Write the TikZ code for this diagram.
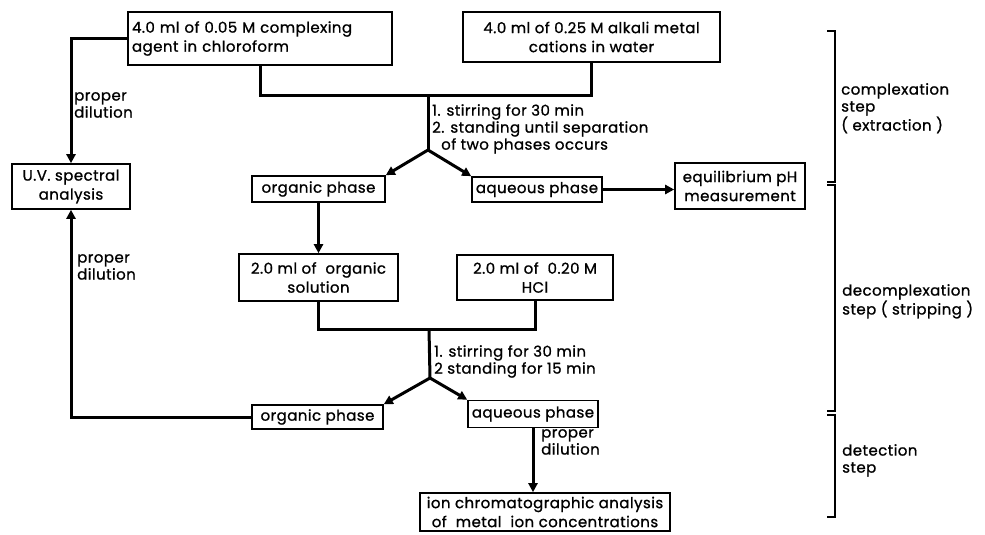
\documentclass[tikz,border=0pt]{standalone}
\usepackage{fontspec}
\setmainfont{Poppins}[LetterSpace=3,FakeBold=1]
\usetikzlibrary{arrows.meta}
\begin{document}
\begin{tikzpicture}[x=1pt,y=-1pt,
  every node/.style={font=\fontsize{15}{19}\selectfont},
  box/.style={draw,line width=1.6pt,inner sep=0pt,align=center},
  conn/.style={line width=3pt},
  arr/.style={line width=3pt,-{Triangle[length=9pt,width=9pt]}},
  brk/.style={line width=1.5pt},
  lbl/.style={anchor=north west,inner sep=0pt,align=left,font=\fontsize{15}{17}\selectfont}]
\useasboundingbox (0,0) rectangle (985,535);
% boxes
\node[box,minimum width=264pt,minimum height=53pt,text width=256pt,align=left] (cA) at (260,38.5) {4.0 ml of 0.05 M complexing\\agent in chloroform};
\node[box,minimum width=257pt,minimum height=50pt] (cB) at (591.5,37) {4.0 ml of 0.25 M alkali metal\\cations in water};
\node[box,minimum width=133pt,minimum height=26pt] (orgA) at (318.5,189) {organic phase};
\node[box,minimum width=130pt,minimum height=25pt] (aqA) at (537,189.5) {aqueous phase};
\node[box,minimum width=130pt,minimum height=46pt] (eq) at (740,186) {equilibrium pH\\measurement};
\node[box,minimum width=118pt,minimum height=45pt] (uv) at (71,186.5) {U.V. spectral\\analysis};
\node[box,minimum width=159pt,minimum height=47pt] (orgS) at (318.5,277.5) {2.0 ml of \ organic\\solution};
\node[box,minimum width=156pt,minimum height=45pt] (hcl) at (535,277.5) {2.0 ml of \ 0.20 M\\HCl};
\node[box,minimum width=131pt,minimum height=24pt] (orgB) at (317.5,417) {organic phase};
\node[box,minimum width=130pt,minimum height=27pt] (aqB) at (533,414) {aqueous phase};
\node[box,minimum width=250pt,minimum height=38pt] (ion) at (545,512) {ion chromatographic analysis\\of \ metal \ ion concentrations};
% junctions
\coordinate (j1) at (428,95);
\coordinate (a1) at (428,150);
\coordinate (j2) at (429,329);
\coordinate (a2) at (430,378);
% connectors
\draw[conn] (cA.south) |- (j1) -| (cB.south);
\draw[conn] (j1) -- (a1);
\draw[arr] (a1) -- (orgA.north east);
\draw[arr] (a1) -- (aqA.north west);
\draw[arr] (aqA.east) -- (aqA.east -| eq.west);
\draw[arr] (cA.west) -| (uv.north);
\draw[arr] (orgA.south) -- (orgS.north);
\draw[conn] (orgS.south) |- (j2) -| (hcl.south);
\draw[conn] (j2) -- (a2);
\draw[arr] (a2) -- (orgB.north east);
\draw[arr] (a2) -- (aqB.north west);
\draw[arr] (orgB.west) -| (uv.south);
\draw[arr] (aqB.south) -- (aqB.south |- ion.north);
% labels
\node[lbl] (s1) at (432,104) {1. stirring for 30 min\\2. standing until separation\\\hspace*{9pt}of two phases occurs};
\node[lbl] (s2) at (434,345) {1. stirring for 30 min\\2 standing for 15 min};
\node[lbl] (d1) at (74,92) {proper\\dilution};
\node[lbl] (d2) at (77,254) {proper\\dilution};
\node[lbl] (d3) at (541,429) {proper\\dilution};
% brackets
\draw[brk] (827,31) -- (835,31) -- (835,182) -- (827,182);
\draw[brk] (827,185) -- (835,185) -- (835,411) -- (827,411);
\draw[brk] (827,415) -- (835,415) -- (835,517) -- (827,517);
\node[lbl] (b1) at (841,83) {complexation\\step\\( extraction )};
\node[lbl] (b2) at (842,284) {decomplexation\\step ( stripping )};
\node[lbl] (b3) at (842,444) {detection\\step};
\end{tikzpicture}
\end{document}
